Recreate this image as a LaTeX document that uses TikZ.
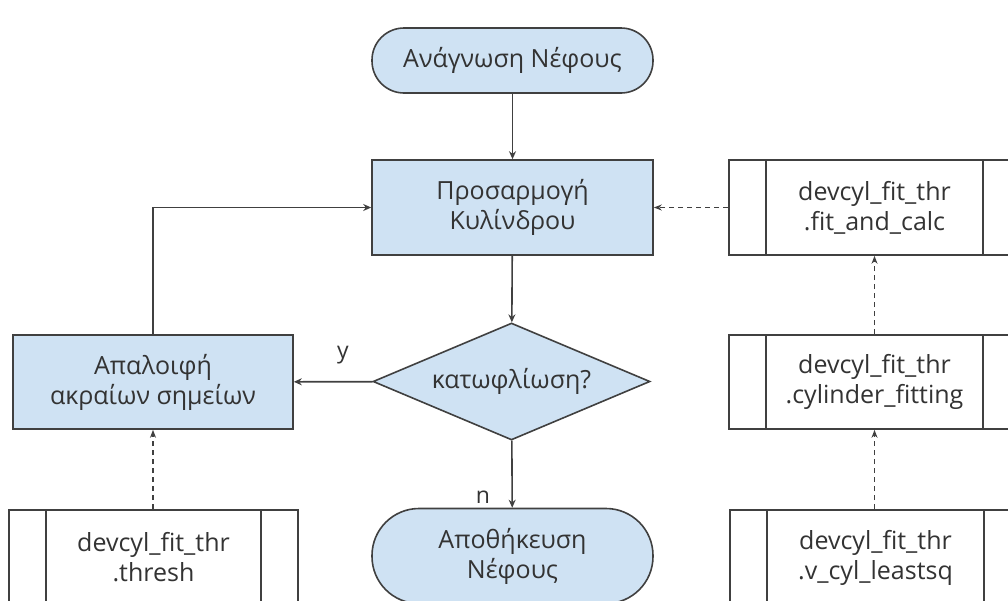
\documentclass[tikz,border=0pt]{standalone}
\usepackage{fontspec}
\setmainfont{Open Sans}
\usetikzlibrary{arrows.meta,shapes.geometric}
\definecolor{boxfill}{HTML}{CFE2F3}
\definecolor{edgecol}{HTML}{404040}
\definecolor{txtcol}{HTML}{333333}
\tikzset{
  base/.style={draw=edgecol, line width=1.6pt, text=txtcol, align=center, inner sep=0pt,
    font=\fontsize{25}{30}\selectfont},
  procbox/.style={base, rectangle, fill=boxfill, minimum width=281pt, minimum height=95pt},
  termbox/.style={base, rectangle, fill=boxfill, minimum width=281pt},
  decbox/.style={base, diamond, fill=boxfill, minimum width=277pt, minimum height=117pt, aspect=2.37},
  subbox/.style={base, rectangle, fill=white, minimum width=290pt, minimum height=95pt,
    path picture={
      \draw[edgecol, line width=1.6pt]
        ([xshift=37pt]path picture bounding box.north west) -- ([xshift=37pt]path picture bounding box.south west)
        ([xshift=-37pt]path picture bounding box.north east) -- ([xshift=-37pt]path picture bounding box.south east);
    }},
  flow/.style={draw=edgecol, line width=1.6pt, -{Stealth[length=8pt,width=7pt]}},
  dflow/.style={draw=edgecol, line width=1.5pt, dash pattern=on 5pt off 4pt, -{Stealth[open,length=8pt,width=6pt]}},
  lbl/.style={text=txtcol, font=\fontsize{23}{28}\selectfont, inner sep=0pt}
}
\begin{document}
\begin{tikzpicture}[x=1pt,y=-1pt]
\useasboundingbox (0,0) rectangle (1008,600);
\clip (0,0) rectangle (1008,600);
\node[termbox, minimum height=65pt, rounded corners=32pt] (start) at (512.5,60.5) {Ανάγνωση Νέφους};
\node[procbox] (fit) at (512.5,207.5) {Προσαρμογή\\Κυλίνδρου};
\node[decbox] (dec) at (511.5,381.5) {κατωφλίωση?};
\node[termbox, minimum height=95pt, rounded corners=47pt] (end) at (512.5,556) {Αποθήκευση\\Νέφους};
\node[procbox, minimum width=280pt, minimum height=94pt] (rem) at (153,382) {Απαλοιφή\\ακραίων σημείων};
\node[subbox, minimum width=291pt] (calc) at (874.5,207.5) {devcyl\_fit\_thr\\.fit\_and\_calc};
\node[subbox, minimum width=291pt, minimum height=94pt] (cylf) at (874.5,382) {devcyl\_fit\_thr\\.cylinder\_fitting};
\node[subbox, minimum width=291pt] (lsq) at (875.5,557.5) {devcyl\_fit\_thr\\.v\_cyl\_leastsq};
\node[subbox, minimum width=289pt] (thr) at (153.5,557.5) {devcyl\_fit\_thr\\.thresh};
\coordinate (corner) at (153,207.5);
\draw[flow] (start) -- (fit);
\draw[flow] (fit) -- (dec);
\draw[flow] (dec) -- (rem);
\draw[flow] (dec) -- (end);
\draw[flow] (rem.north) -- (corner) -- (fit.west);
\draw[dflow] (calc) -- (fit);
\draw[dflow] (cylf) -- (calc);
\draw[dflow] (lsq.north -| cylf.south) -- (cylf);
\draw[dflow] (thr.north -| rem.south) -- (rem);
\node[lbl] (ylbl) at (343,355) {y};
\node[lbl] (nlbl) at (483,497) {n};
\end{tikzpicture}
\end{document}
